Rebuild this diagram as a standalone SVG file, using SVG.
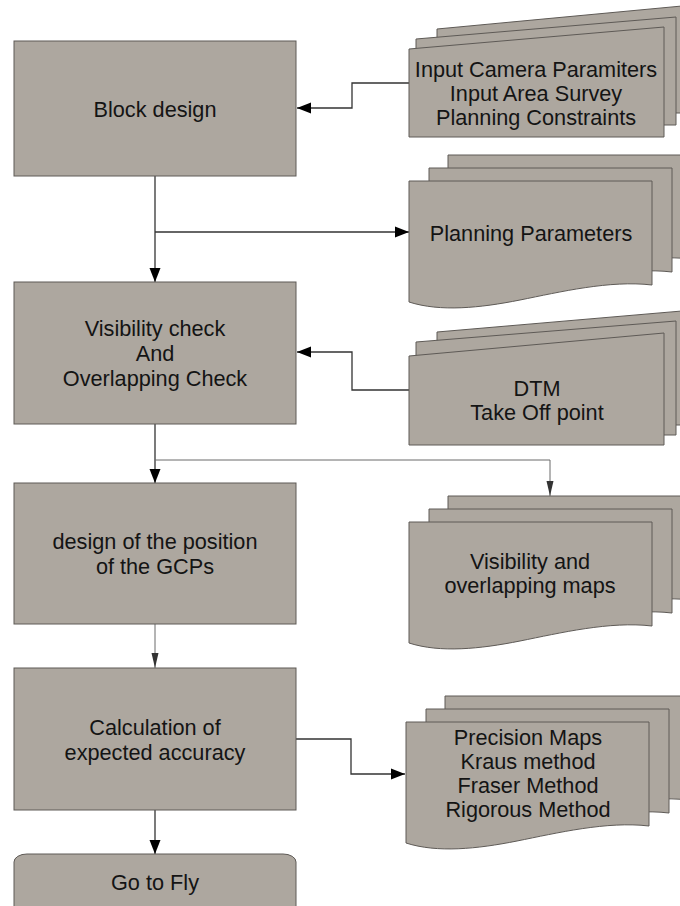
<svg xmlns="http://www.w3.org/2000/svg" width="680" height="906" viewBox="0 0 680 906">
<style>
.box{fill:#ada79f;stroke:#5e5a56;stroke-width:1}
.t{font-family:"Liberation Sans",Arial,sans-serif;font-size:21.7px;fill:#141414;text-anchor:middle}
.c{fill:none;stroke:#333;stroke-width:1.3}
.g{fill:none;stroke:#6a6a6a;stroke-width:1}
</style>
<defs>
<marker id="ab" markerUnits="userSpaceOnUse" markerWidth="15" markerHeight="12" refX="14" refY="6" orient="auto"><path d="M0,0.5 L14,6 L0,11.5 z" fill="#000"/></marker>
<marker id="ag" markerUnits="userSpaceOnUse" markerWidth="16" markerHeight="8" refX="15" refY="4" orient="auto"><path d="M0,0.5 L15,4 L0,7.5 z" fill="#333"/></marker>
<path id="doc" d="M0,0 h243 v104 c-42,-5 -92,7 -132,15 c-40,8 -80,12 -111,2 z"/>
</defs>
<rect width="680" height="906" fill="#fff"/>

<g id="connectors">
<polyline class="c" points="409,83 352,83 352,108 297,108" marker-end="url(#ab)"/>
<line class="c" x1="155" y1="176" x2="155" y2="282" marker-end="url(#ab)"/>
<line class="c" x1="155" y1="232" x2="409" y2="232" marker-end="url(#ab)"/>
<polyline class="c" points="409,390 352,390 352,352 297,352" marker-end="url(#ab)"/>
<line class="c" x1="155" y1="424" x2="155" y2="483" marker-end="url(#ab)"/>
<polyline class="g" points="155,460 550,460 550,496" marker-end="url(#ag)"/>
<line class="g" x1="155" y1="624" x2="155" y2="668" marker-end="url(#ag)"/>
<polyline class="c" points="296,739 351,739 351,774 405,774" marker-end="url(#ab)"/>
<line class="c" x1="155" y1="810" x2="155" y2="854" marker-end="url(#ab)"/>
</g>

<g id="block-design">
<rect class="box" x="14" y="41" width="282" height="135"/>
<text class="t" x="155" y="117">Block design</text>
</g>

<g id="visibility-check">
<rect class="box" x="14" y="282" width="282" height="142"/>
<text class="t" x="155" y="336">Visibility check</text>
<text class="t" x="155" y="361">And</text>
<text class="t" x="155" y="386">Overlapping Check</text>
</g>

<g id="gcp-design">
<rect class="box" x="14" y="483" width="282" height="141"/>
<text class="t" x="155" y="549">design of the position</text>
<text class="t" x="155" y="574">of the GCPs</text>
</g>

<g id="calculation">
<rect class="box" x="14" y="668" width="282" height="142"/>
<text class="t" x="155" y="735">Calculation of</text>
<text class="t" x="155" y="760">expected accuracy</text>
</g>

<g id="go-to-fly">
<rect class="box" x="14" y="854" width="282" height="70" rx="13" ry="8"/>
<text class="t" x="155" y="890">Go to Fly</text>
</g>

<g id="input-docs">
<polygon class="box" points="437,29 682,6 682,113 437,113"/>
<polygon class="box" points="416,39 676,17 676,125 416,125"/>
<polygon class="box" points="409,49 664,27 664,137 409,137"/>
<text class="t" x="536" y="77">Input Camera Paramiters</text>
<text class="t" x="536" y="101">Input Area Survey</text>
<text class="t" x="536" y="125">Planning Constraints</text>
</g>

<g id="planning-parameters">
<use href="#doc" class="box" x="448" y="155"/>
<use href="#doc" class="box" x="429" y="168"/>
<use href="#doc" class="box" x="409" y="181"/>
<text class="t" x="531" y="241">Planning Parameters</text>
</g>

<g id="dtm-docs">
<polygon class="box" points="437,332 682,311 682,425 437,425"/>
<polygon class="box" points="416,342 676,321 676,435 416,435"/>
<polygon class="box" points="409,356 664,333 664,445 409,445"/>
<text class="t" x="537" y="396">DTM</text>
<text class="t" x="537" y="420">Take Off point</text>
</g>

<g id="visibility-maps">
<use href="#doc" class="box" x="448" y="496"/>
<use href="#doc" class="box" x="429" y="509"/>
<use href="#doc" class="box" x="409" y="522"/>
<text class="t" x="530" y="569">Visibility and</text>
<text class="t" x="530" y="593">overlapping maps</text>
</g>

<g id="precision-maps">
<use href="#doc" class="box" x="445" y="696"/>
<use href="#doc" class="box" x="426" y="709"/>
<use href="#doc" class="box" x="406" y="722"/>
<text class="t" x="528" y="745">Precision Maps</text>
<text class="t" x="528" y="769">Kraus method</text>
<text class="t" x="528" y="793">Fraser Method</text>
<text class="t" x="528" y="817">Rigorous Method</text>
</g>
</svg>
